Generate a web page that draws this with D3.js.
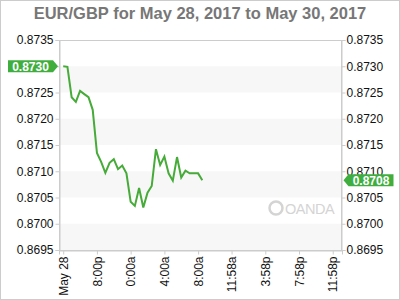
<!DOCTYPE html>
<html>
<head>
<meta charset="utf-8">
<script src="https://cdn.jsdelivr.net/npm/d3@7"></script>
<style>
  body { margin: 0; background: #fff; }
  svg { display: block; font-family: "Liberation Sans", Arial, sans-serif; }
</style>
</head>
<body>
<div id="chart"></div>
<script>
var width = 400;
var height = 300;
var margin = { top: 40, right: 58, bottom: 50, left: 59 };

var title = "EUR/GBP for May 28, 2017 to May 30, 2017";

// hours after May 28 16:00, one quote every half hour
var hours = [0, 0.5, 1, 1.5, 2, 2.5, 3, 3.5, 4, 4.5, 5, 5.5, 6, 6.5, 7, 7.5,
  8, 8.5, 9, 9.5, 10, 10.5, 11, 11.5, 12, 12.5, 13, 13.5, 14, 14.5, 15, 15.5, 16, 16.5];
var rates = [0.87300, 0.87299, 0.87241, 0.87232, 0.87253, 0.87247, 0.87241, 0.87217,
  0.87135, 0.87118, 0.87097, 0.87116, 0.87123, 0.87104, 0.87111, 0.87096,
  0.87042, 0.87034, 0.87068, 0.87031, 0.87059, 0.87072, 0.87142, 0.87112,
  0.87128, 0.87096, 0.87082, 0.87127, 0.87088, 0.87101, 0.87096, 0.87096,
  0.87096, 0.87083];

var xTickHours = [0, 4, 8, 12, 16, 19.97, 23.97, 27.97, 31.97];
var xTickLabels = ["May 28", "8:00p", "0:00a", "4:00a", "8:00a", "11:58a", "3:58p", "7:58p", "11:58p"];
var yTicks = [0.8695, 0.8700, 0.8705, 0.8710, 0.8715, 0.8720, 0.8725, 0.8730, 0.8735];

var firstRate = "0.8730";
var lastRate = "0.8708";

var lineColor = "#46ab39";
var tagColor = "#3fae3f";
var axisColor = "#cccccc";
var bandColor = "#f7f7f7";

var svg = d3.select("#chart")
  .append("svg")
  .attr("width", width)
  .attr("height", height);

var x = d3.scaleLinear()
  .domain([-0.5, 33.07])
  .range([margin.left, width - margin.right]);

var y = d3.scaleLinear()
  .domain([0.8695, 0.8735])
  .range([height - margin.bottom, margin.top]);

// outer frame
svg.append("rect")
  .attr("x", 0.5).attr("y", 0.5)
  .attr("width", width - 1).attr("height", height - 1)
  .attr("fill", "#fff")
  .attr("stroke", axisColor);

// title
svg.append("text")
  .attr("x", width / 2)
  .attr("y", 19)
  .attr("text-anchor", "middle")
  .attr("font-size", 16.5)
  .attr("font-weight", "bold")
  .attr("fill", "#777")
  .text(title);

// alternating bands
for (var i = 0; i < yTicks.length - 1; i++) {
  if (i % 2 === 0) {
    svg.append("rect")
      .attr("x", margin.left)
      .attr("width", width - margin.right - margin.left)
      .attr("y", y(yTicks[i + 1]))
      .attr("height", y(yTicks[i]) - y(yTicks[i + 1]))
      .attr("fill", bandColor);
  }
}

// watermark
var wm = svg.append("g").attr("fill", "#d4d4d4");
wm.append("circle").attr("cx", 276).attr("cy", 208).attr("r", 6.5)
  .attr("fill", "none").attr("stroke", "#d4d4d4").attr("stroke-width", 2.5);
wm.append("text")
  .attr("x", 285).attr("y", 213.5)
  .attr("font-size", 14.5)
  .attr("letter-spacing", -0.5)
  .text("OANDA");

// plot frame
svg.append("rect")
  .attr("x", margin.left + 0.5)
  .attr("y", margin.top + 0.5)
  .attr("width", width - margin.right - margin.left - 1)
  .attr("height", height - margin.bottom - margin.top)
  .attr("fill", "none")
  .attr("stroke", axisColor);

// left axis
var yLeft = svg.append("g")
  .attr("transform", "translate(" + (margin.left + 0.5) + ",0)")
  .call(d3.axisLeft(y).tickValues(yTicks).tickFormat(d3.format(".4f")).tickSize(4).tickPadding(2));

// right axis
var yRight = svg.append("g")
  .attr("transform", "translate(" + (width - margin.right - 0.5) + ",0)")
  .call(d3.axisRight(y).tickValues(yTicks).tickFormat(d3.format(".4f")).tickSize(4).tickPadding(1));

// bottom axis
var xAxis = svg.append("g")
  .attr("transform", "translate(0," + (height - margin.bottom + 0.5) + ")")
  .call(d3.axisBottom(x).tickValues(xTickHours)
    .tickFormat(function (d, i) { return xTickLabels[i]; })
    .tickSize(4));

xAxis.selectAll("text")
  .attr("transform", "rotate(-90)")
  .attr("text-anchor", "end")
  .attr("x", -6)
  .attr("y", 0)
  .attr("dy", "0.35em");

[yLeft, yRight, xAxis].forEach(function (g) {
  g.select(".domain").attr("stroke", axisColor);
  g.selectAll(".tick line").attr("stroke", axisColor);
  g.selectAll("text")
    .attr("fill", "#111")
    .attr("font-size", 12)
    .attr("font-family", "'Liberation Sans', Arial, sans-serif");
});

// price line
var line = d3.line()
  .x(function (d, i) { return x(hours[i]); })
  .y(function (d) { return y(d); });

svg.append("path")
  .datum(rates)
  .attr("d", line)
  .attr("fill", "none")
  .attr("stroke", lineColor)
  .attr("stroke-width", 2);

// value tags
function drawTag(tipX, cy, text, pointsLeft) {
  var w = 45, h = 12, a = 5;
  var pts;
  if (pointsLeft) {
    pts = [[tipX, cy], [tipX + a, cy - h / 2], [tipX + a + w, cy - h / 2],
      [tipX + a + w, cy + h / 2], [tipX + a, cy + h / 2]];
  } else {
    pts = [[tipX, cy], [tipX - a, cy - h / 2], [tipX - a - w, cy - h / 2],
      [tipX - a - w, cy + h / 2], [tipX - a, cy + h / 2]];
  }
  svg.append("polygon")
    .attr("points", pts.map(function (p) { return p.join(","); }).join(" "))
    .attr("fill", tagColor);
  svg.append("text")
    .attr("x", pointsLeft ? tipX + a + w / 2 : tipX - a - w / 2)
    .attr("y", cy + 4.5)
    .attr("text-anchor", "middle")
    .attr("font-size", 12)
    .attr("font-weight", "bold")
    .attr("fill", "#fff")
    .text(text);
}

drawTag(58, y(+firstRate), firstRate, false);
drawTag(343.5, y(rates[rates.length - 1]), lastRate, true);
</script>
</body>
</html>
